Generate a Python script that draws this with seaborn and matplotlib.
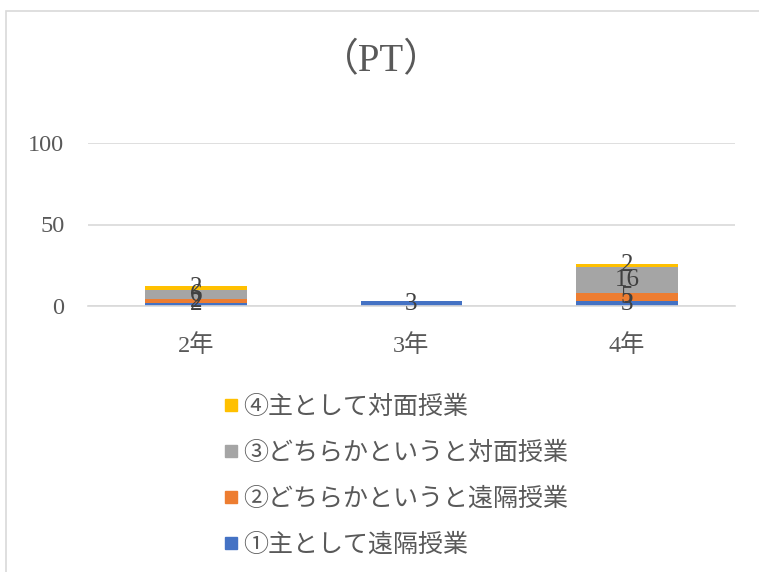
import matplotlib
matplotlib.use("Agg")
import matplotlib.pyplot as plt
from matplotlib.lines import Line2D
from matplotlib.patches import Rectangle
import seaborn as sns
import pandas as pd

years = ["2年", "3年", "4年"]
series = ["①主として遠隔授業", "②どちらかというと遠隔授業",
          "③どちらかというと対面授業", "④主として対面授業"]
v1 = [2, 3, 3]
v2 = [2, 0, 5]
v3 = [6, 0, 16]
v4 = [2, 0, 2]
colors = ["#4472C4", "#ED7D31", "#A5A5A5", "#FFC000"]
title = "（PT）"
yticks = [0, 50, 100]

sns.set_theme(style="white")
SERIF = ["Liberation Serif", "Noto Sans CJK JP", "DejaVu Sans"]
plt.rcParams["font.family"] = SERIF
TXT = "#595959"

rows = []
for s, vals in zip(series, [v1, v2, v3, v4]):
    for y, v in zip(years, vals):
        rows.append({"year": y, "series": s, "value": v})
df = pd.DataFrame(rows)
df["year"] = pd.Categorical(df["year"], categories=years, ordered=True)

fig = plt.figure(figsize=(7.59, 5.72), dpi=100)
ax = fig.add_axes([88/759, 1-306/572, (735-88)/759, (306-143)/572])

sns.histplot(data=df, x="year", weights="value", hue="series",
             hue_order=series[::-1], multiple="stack", discrete=True,
             shrink=0.47, palette=colors[::-1],
             linewidth=0, alpha=1, ax=ax, legend=False)

for c in ax.containers:
    labs = []
    for p in c.patches:
        h = p.get_height()
        labs.append("" if h == 0 else f"{int(round(h))}")
    ax.bar_label(c, labels=labs, label_type="center", fontsize=18,
                 color="#404040", family=SERIF)

ax.set_ylim(0, 100)
ax.set_xlim(-0.5, 2.5)
ax.set_yticks(yticks)
ax.set_xticks(range(len(years)))
ax.set_xticklabels(years)
ax.set_xlabel("")
ax.set_ylabel("")
ax.grid(axis="y", color="#D9D9D9", linewidth=1.2)
ax.set_axisbelow(True)
for sp in ["top", "right", "left"]:
    ax.spines[sp].set_visible(False)
ax.spines["bottom"].set_color("#D9D9D9")
ax.spines["bottom"].set_linewidth(1.2)
ax.tick_params(axis="both", length=0, labelsize=17.5, colors=TXT)
ax.tick_params(axis="x", pad=20)
ax.tick_params(axis="y", pad=17)

fig.text(381/759, 1-62/572, title, ha="center", va="center", fontsize=28,
         color=TXT, family=SERIF)

handles = [Line2D([0], [0], marker="s", linestyle="none", markersize=8,
                  markerfacecolor=c, markeredgecolor=c) for c in colors]
leg = fig.legend(handles[::-1], series[::-1], loc="upper left",
                 bbox_to_anchor=(213/759, 1-386/572), frameon=False,
                 fontsize=18, labelspacing=0.9, handlelength=0.6,
                 handletextpad=0.2, borderaxespad=0)
for t in leg.get_texts():
    t.set_color(TXT)

fig.patches.append(Rectangle((6/759, -0.1), 1.1, 1-11/572+0.1,
                             transform=fig.transFigure, fill=False,
                             edgecolor="#D9D9D9", linewidth=1.2))

fig.savefig("out.png", dpi=100)
